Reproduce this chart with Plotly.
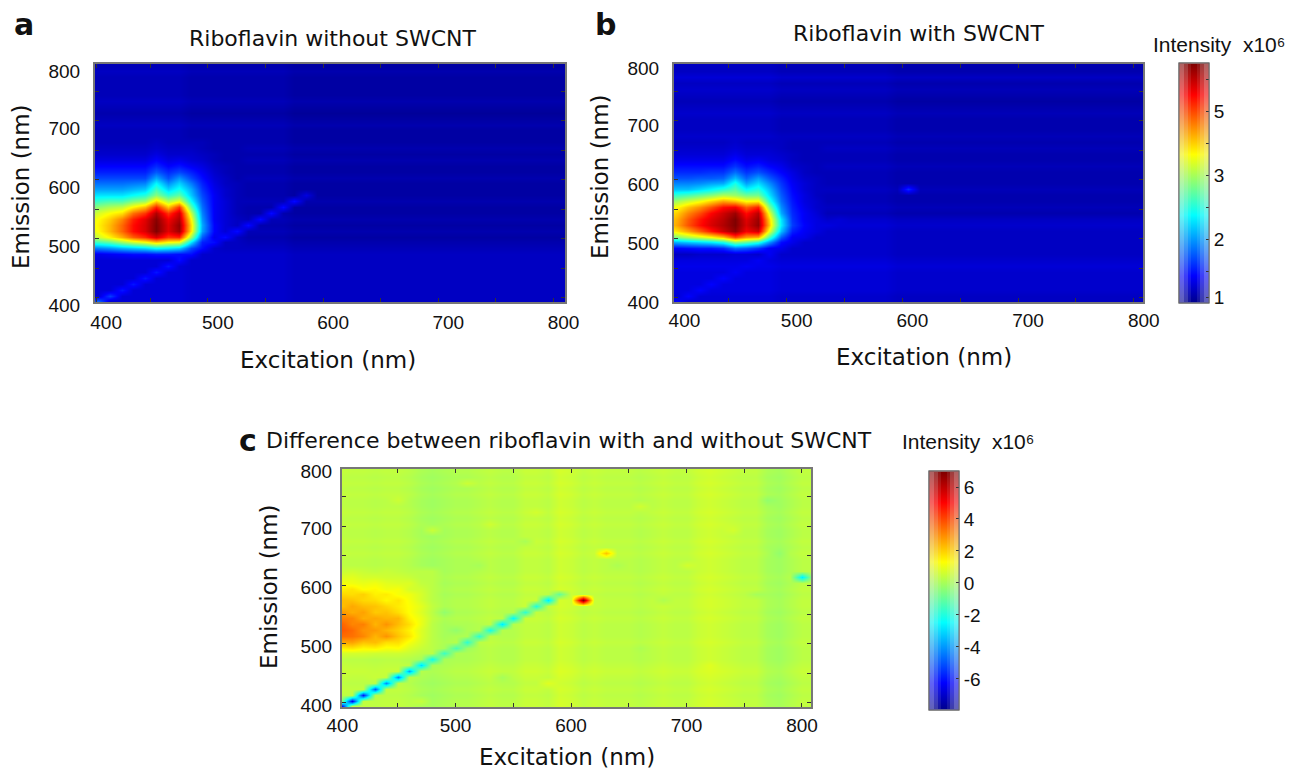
import plotly.graph_objects as go

W, H = 1289, 771
JET_STOPS = [(0, (0, 0, 143)), (0.11, (0, 0, 255)), (0.365, (0, 255, 255)),
             (0.62, (255, 255, 0)), (0.87, (255, 0, 0)), (1, (128, 0, 0))]


def jet(fade):
    out = []
    for p, c in JET_STOPS:
        r, g, b = [v + (235 - v) * fade for v in c]
        out.append([p, "rgb(%d,%d,%d)" % (r, g, b)])
    return out


JET = jet(0)

ab_excitation = list(range(395, 825, 10))
c_excitation = list(range(400, 820, 10))
emission = list(range(394, 814, 10))

# --- panel a, readings in percent of the colour range
a_row_bg = [5, 5, 5, 5, 5, 5, 5, 5, 5, 4, 3, 2, 3, 2, 3, 2, 2, 3, 2, 2, 2, 3, 2, 2, 3, 2, 3, 2, 2, 2, 3, 2, 1, 2, 3, 2, 2, 2, 2, 3, 2, 2]
a_col_bg = [2, 2, 2, 2, 2, 2, 2, 2, 2, 1, 1, 1, 1, 1, 1, 1, 1, 1, 0, 0, 0, 0, 0, 0, 0, 0, 0, 0, 0, 0, 0, 0, 0, 0, 0, 0, 0, 0, 0, 0, 0, 0, 0]
hot_ex = [395, 405, 415, 425, 435, 445, 455, 465, 475, 485, 495, 505, 515, 525]
hot_em = [664, 654, 644, 634, 624, 614, 604, 594, 584, 574, 564, 554, 544, 534, 524, 514, 504, 494, 484, 474]
a_hot = [
    [4, 4, 4, 4, 4, 4, 5, 4, 4, 4, 4, 3, 3, 3],
    [5, 5, 5, 5, 5, 5, 6, 5, 5, 5, 4, 3, 3, 3],
    [6, 6, 6, 6, 6, 6, 8, 6, 6, 6, 5, 4, 3, 3],
    [8, 8, 8, 8, 8, 8, 11, 8, 9, 7, 6, 4, 3, 3],
    [11, 11, 11, 11, 11, 11, 15, 11, 13, 10, 8, 5, 4, 3],
    [14, 14, 14, 14, 14, 14, 20, 15, 18, 14, 10, 6, 4, 3],
    [18, 18, 18, 18, 18, 18, 28, 19, 26, 18, 12, 7, 5, 3],
    [22, 22, 22, 22, 23, 24, 36, 25, 32, 23, 14, 8, 5, 4],
    [27, 27, 27, 27, 29, 31, 43, 32, 38, 28, 16, 9, 6, 4],
    [33, 34, 34, 34, 37, 40, 50, 41, 46, 31, 18, 10, 6, 4],
    [40, 42, 44, 44, 49, 52, 66, 54, 60, 37, 20, 10, 7, 4],
    [46, 51, 54, 56, 63, 69, 84, 68, 82, 46, 22, 10, 7, 4],
    [53, 58, 62, 65, 76, 82, 95, 82, 92, 56, 24, 10, 7, 4],
    [57, 62, 67, 74, 84, 90, 99, 88, 95, 62, 26, 10, 7, 5],
    [58, 63, 69, 77, 86, 91, 100, 90, 98, 65, 28, 11, 7, 5],
    [57, 62, 69, 77, 86, 91, 100, 90, 97, 64, 27, 11, 7, 5],
    [52, 57, 63, 70, 78, 83, 91, 82, 84, 52, 20, 9, 6, 5],
    [40, 43, 46, 52, 57, 61, 67, 62, 60, 34, 14, 7, 5, 5],
    [22, 24, 26, 29, 31, 33, 37, 35, 32, 18, 8, 6, 5, 5],
    [9, 9, 10, 11, 12, 12, 13, 13, 12, 8, 6, 6, 6, 6],
]
a_diag = [21, 17, 13, 13, 13, 13, 13, 12, 12, 12, 12, 12, 12, 12, 12, 12, 12, 12, 8]

# --- panel b
b_row_bg = [5, 5, 6, 6, 6, 6, 7, 6, 5, 5, 5, 5, 5, 6, 5, 3, 4, 3, 3, 4, 3, 3, 3, 4, 3, 3, 4, 3, 4, 3, 3, 3, 4, 3, 2, 3, 4, 3, 5, 3, 3, 3]
b_col_bg = [2, 2, 2, 2, 2, 2, 2, 2, 2, 2, 1, 1, 1, 1, 1, 1, 1, 1, 1, 1, 0, 0, 0, 0, 0, 0, 0, 0, 0, 0, 0, 0, 0, 0, 0, 0, 0, 0, 0, 0, 0, 0, 0]
b_hot = [
    [5, 5, 5, 5, 5, 5, 6, 5, 5, 5, 5, 4, 4, 4],
    [6, 6, 6, 6, 6, 6, 7, 6, 6, 6, 5, 4, 4, 4],
    [7, 7, 7, 7, 7, 7, 9, 7, 7, 7, 6, 5, 4, 4],
    [9, 9, 9, 9, 9, 9, 12, 9, 10, 8, 7, 5, 4, 4],
    [12, 12, 12, 12, 12, 12, 16, 12, 14, 11, 9, 6, 5, 4],
    [15, 15, 15, 15, 16, 16, 22, 16, 19, 15, 11, 8, 5, 4],
    [19, 19, 19, 20, 20, 21, 30, 21, 27, 20, 14, 9, 6, 5],
    [24, 24, 24, 25, 27, 28, 39, 27, 33, 25, 16, 10, 7, 5],
    [30, 30, 30, 33, 36, 40, 45, 36, 40, 30, 18, 11, 7, 5],
    [40, 42, 44, 47, 50, 54, 52, 48, 48, 34, 20, 12, 8, 5],
    [50, 53, 57, 61, 66, 71, 68, 62, 63, 40, 22, 13, 8, 6],
    [58, 62, 68, 73, 79, 86, 88, 78, 84, 50, 25, 14, 9, 6],
    [62, 67, 74, 80, 87, 92, 97, 86, 94, 60, 28, 15, 10, 7],
    [64, 70, 78, 85, 90, 94, 100, 90, 97, 66, 34, 16, 10, 8],
    [64, 71, 79, 86, 91, 95, 100, 91, 98, 68, 35, 17, 11, 8],
    [59, 65, 71, 78, 85, 92, 98, 88, 92, 60, 30, 14, 10, 7],
    [46, 50, 54, 58, 62, 68, 80, 72, 70, 44, 20, 10, 7, 6],
    [27, 29, 31, 33, 35, 39, 50, 46, 40, 26, 12, 7, 6, 6],
    [11, 11, 12, 13, 13, 15, 22, 20, 16, 10, 7, 6, 6, 6],
    [5, 5, 5, 6, 6, 6, 7, 7, 6, 6, 6, 6, 6, 6],
]
b_diag = [11, 11, 11, 11, 11, 10, 10, 10, 10, 9, 9, 9, 8, 8, 7]
b_spot = (605, 584, 15)

# --- panel c, readings in units of 1e6
c_row_bg = [0.1, 0.1, 0.0, 0.1, 0.0, 0.1, 0.2, 0.1, 0.0, 0.0, 0.0, 0.1, 0.0, 0.0, 0.0, 0.1, 0.0, 0.1, 0.1, 0.0, 0.1, 0.0, 0.1, 0.0, 0.0, 0.0, 0.1, 0.0, 0.1, 0.0, 0.0, 0.1, 0.0, 0.1, 0.0, 0.0, 0.1, 0.0, 0.1, 0.0, 0.1, 0.0]
c_col_bg = [0.35, 0.3, 0.3, 0.25, 0.3, 0.3, 0.2, 0.0, -0.1, 0.0, 0.1, 0.1, 0.2, 0.3, 0.2, 0.2, 0.4, 0.4, 0.3, 0.6, 0.5, 0.3, 0.4, 0.3, 0.3, 0.3, 0.2, 0.3, 0.4, 0.3, 0.3, 0.5, 0.6, 0.5, 0.4, 0.3, 0.3, 0.0, -0.1, 0.1, 0.3, 0.3]
c_hot_ex = [400, 410, 420, 430, 440, 450, 460, 470, 480]
c_hot_em = [624, 614, 604, 594, 584, 574, 564, 554, 544, 534, 524, 514, 504, 494, 484]
c_hot = [
    [0.5, 0.6, 0.5, 0.4, 0.5, 0.4, 0.3, 0.3, 0.3],
    [0.8, 0.9, 0.7, 0.7, 0.6, 0.6, 0.5, 0.3, 0.3],
    [1.2, 1.1, 1.0, 1.1, 0.9, 0.8, 0.8, 0.4, 0.3],
    [1.5, 1.7, 1.3, 1.4, 1.1, 1.2, 0.7, 0.6, 0.3],
    [1.9, 1.8, 2.0, 1.5, 1.6, 1.2, 1.1, 0.7, 0.3],
    [2.3, 2.2, 1.9, 1.8, 1.4, 1.7, 1.2, 0.7, 0.3],
    [2.2, 2.6, 2.3, 2.2, 1.9, 1.6, 1.3, 0.9, 0.4],
    [2.9, 2.5, 2.7, 2.1, 2.2, 1.8, 1.3, 0.8, 0.3],
    [3.2, 3.1, 2.5, 2.6, 2.4, 2.4, 1.5, 1.0, 0.4],
    [3.7, 3.1, 3.2, 2.4, 2.9, 2.3, 1.8, 1.0, 0.3],
    [3.8, 3.5, 2.9, 2.8, 2.4, 2.0, 1.5, 0.8, 0.3],
    [3.5, 3.4, 3.1, 2.4, 2.9, 2.2, 1.7, 0.8, 0.3],
    [2.6, 2.7, 2.2, 2.3, 1.8, 1.8, 1.2, 0.7, 0.3],
    [1.5, 1.7, 1.4, 1.5, 1.2, 1.3, 0.8, 0.5, 0.3],
    [0.7, 0.7, 0.7, 0.6, 0.6, 0.6, 0.5, 0.3, 0.3],
]
c_diag = [-7.5, -6.5, -6.0, -5.0, -4.2, -4.3, -3.8, -3.0, -2.3, -1.6, -1.4, -1.8, -1.8, -2.2, -2.8, -2.5, -1.8, -2.0, -2.8, -1.0]
c_spots = [(610, 574, 7.0), (630, 654, 2.2), (800, 614, -2.7),
           (450, 744, 0.55), (510, 774, 0.55), (530, 704, 0.6), (560, 674, 0.05), (480, 694, 0.5),
           (520, 634, 0.0), (500, 524, -0.3), (490, 554, -0.3), (510, 494, -0.15), (540, 444, 0.0),
           (570, 724, 0.65), (660, 734, 0.6), (640, 634, 0.1), (680, 574, 0.15), (720, 464, 0.85),
           (770, 744, -0.3), (780, 654, -0.3), (760, 584, 0.0), (590, 454, 0.8), (580, 434, 0.85),
           (430, 444, 0.5), (470, 404, 0.45), (660, 494, 0.1), (700, 634, 0.65), (740, 694, 0.65)]

AB_LOW, AB_HIGH = 1.0, 4.75   # position of the colour bar's ends
C_LOW, C_HIGH = -7.94, 7.0


def percent(v):
    return AB_LOW + v * (AB_HIGH - AB_LOW) / 100


def panel(xs, row_bg, col_bg, hot, hx, hy, diag, diag_col, spots, conv):
    z = [[conv(r + c) for c in col_bg] for r in row_bg]
    for j, em in enumerate(hy):
        for i, ex in enumerate(hx):
            z[emission.index(em)][xs.index(ex)] = conv(hot[j][i])
    for k, v in enumerate(diag):
        z[k][k + diag_col] = conv(v)
    for ex, em, v in spots:
        z[emission.index(em)][xs.index(ex)] = conv(v)
    return z


z_a = panel(ab_excitation, a_row_bg, a_col_bg, a_hot, hot_ex, hot_em, a_diag, 1, [], percent)
z_b = panel(ab_excitation, b_row_bg, b_col_bg, b_hot, hot_ex, hot_em, b_diag, 1, [b_spot], percent)
z_c = panel(c_excitation, c_row_bg, c_col_bg, c_hot, c_hot_ex, c_hot_em, c_diag, 0, c_spots, lambda v: v)

TICK = dict(family="Liberation Sans", size=19, color="#111")
TXT = dict(family="DejaVu Sans", size=22, color="#111")
AX = dict(family="DejaVu Sans", size=23, color="#111")

ab_tickvals = [1.1, 2, 3, 4]
ab_ticktext = ["1", "2", "3", "5"]
ab_all_ticks = [1.1, 1.5, 2, 2.5, 3, 3.5, 4, 4.5]
c_tickvals = [-6, -4, -2, 0, 2, 4, 6]
c_ticktext = ["-6", "-4", "-2", "0", "2", "4", "6"]


def cbar(x0, width, top, bottom, vals=None, text=None, labels=False, outline=0):
    d = dict(x=x0 / W, xanchor="left", xpad=0, y=1 - bottom / H, yanchor="bottom", ypad=0,
             thickness=width, thicknessmode="pixels", len=(bottom - top) / H, lenmode="fraction",
             outlinecolor="#666", outlinewidth=outline, showticklabels=labels, tickfont=TICK)
    if vals:
        d.update(tickmode="array", tickvals=vals, ticktext=text or [str(v) for v in vals],
                 ticks="inside", ticklen=3, tickcolor="#333")
    else:
        d.update(ticks="")
    return d


def fade_layers(x0, top, bottom, low, high, labelled, labels, all_ticks):
    """Nested colour bars reproduce the reference bar's pale edges."""
    fig.add_trace(go.Heatmap(z=[[low, high]], opacity=0, hoverinfo="skip", colorscale=jet(0.42), zmin=low, zmax=high,
                             colorbar=cbar(x0, 30, top, bottom, labelled, labels, True, 1)))
    fig.add_trace(go.Heatmap(z=[[low, high]], opacity=0, hoverinfo="skip", colorscale=jet(0.42), zmin=low, zmax=high,
                             colorbar=cbar(x0, 30, top, bottom, all_ticks, None, False, 1)))
    fig.add_trace(go.Heatmap(z=[[low, high]], opacity=0, hoverinfo="skip", colorscale=jet(0.26), zmin=low, zmax=high,
                             colorbar=cbar(x0 + 5, 20, top + 1, bottom - 1)))
    fig.add_trace(go.Heatmap(z=[[low, high]], opacity=0, hoverinfo="skip", colorscale=jet(0.1), zmin=low, zmax=high,
                             colorbar=cbar(x0 + 9, 12, top + 1, bottom - 1)))


fig = go.Figure()
fade_layers(1178.5, 64, 303.5, AB_LOW, AB_HIGH, ab_tickvals, ab_ticktext, ab_all_ticks)
fade_layers(929, 471, 710, C_LOW, C_HIGH, c_tickvals, c_ticktext, c_tickvals)
fig.add_trace(go.Heatmap(x=ab_excitation, y=emission, z=z_a, zsmooth="best", colorscale=JET,
                         zmin=AB_LOW, zmax=AB_HIGH, xaxis="x", yaxis="y", showscale=False))
fig.add_trace(go.Heatmap(x=ab_excitation, y=emission, z=z_b, zsmooth="best", colorscale=JET,
                         zmin=AB_LOW, zmax=AB_HIGH, xaxis="x2", yaxis="y2",
                         colorbar=cbar(1178.5 + 12, 6, 65, 302.5)))
fig.add_trace(go.Heatmap(x=c_excitation, y=emission, z=z_c, zsmooth="best", colorscale=JET,
                         zmin=C_LOW, zmax=C_HIGH, xaxis="x3", yaxis="y3",
                         colorbar=cbar(929 + 12, 6, 472, 709)))


def axis(d0, d1, rng, tickvals, ticktext, minor_vals, anchor, shift, standoff):
    return dict(domain=[d0, d1], range=rng, tickmode="array", tickvals=tickvals, ticktext=ticktext,
                ticks="inside", ticklen=4, tickcolor="#333", tickfont=TICK, showline=True, linecolor="#777",
                linewidth=2, mirror="ticks", showgrid=False, zeroline=False, anchor=anchor,
                minor=dict(ticks="inside", tickvals=minor_vals, ticklen=4, tickcolor="#333", showgrid=False),
                ticklabelshift=shift, ticklabelstandoff=standoff)


LABELS = ["400", "500", "600", "700", "800"]
MINOR = [450, 550, 650, 750]
X_MAJOR = [403, 500, 600, 700, 800]
Y_MAJOR = [400, 500, 600, 700, 796]
fig.update_layout(
    width=W, height=H, margin=dict(l=0, r=0, t=0, b=0, autoexpand=False), paper_bgcolor="white", plot_bgcolor="white",
    xaxis=axis(95 / W, 565 / W, [402, 810], X_MAJOR, LABELS, MINOR, "y", 10, 2),
    yaxis=axis(1 - 302 / H, 1 - 64 / H, [393, 796.6], Y_MAJOR, LABELS, MINOR, "x", 7, 9),
    xaxis2=axis(674 / W, 1143 / W, [402.6, 808], X_MAJOR, LABELS, MINOR, "y2", 10, 0),
    yaxis2=axis(1 - 302 / H, 1 - 64 / H, [393, 796.6], Y_MAJOR, LABELS, MINOR, "x2", 4, 9),
    xaxis3=axis(342 / W, 811 / W, [401.7, 807.8], [402, 500, 600, 700, 800], LABELS, MINOR, "y3", 0, 0),
    yaxis3=axis(1 - 707 / H, 1 - 469 / H, [393, 797], Y_MAJOR, LABELS, MINOR, "x3", 2, 4),
    font=dict(family="DejaVu Sans", color="#111"),
)


def note(text, x, y, font, anchor="center", angle=0):
    fig.add_annotation(text=text, x=x / W, y=1 - y / H, xref="paper", yref="paper", showarrow=False,
                       xanchor=anchor, yanchor="middle", font=font, borderpad=0, textangle=angle)


BOLD = dict(family="DejaVu Sans", size=30, color="#111", weight="bold")
note("a", 13, 24, BOLD, "left")
note("b", 594, 24, BOLD, "left")
note("c", 238, 440, BOLD, "left")
note("Riboflavin without SWCNT", 332.5, 38, TXT)
note("Riboflavin with SWCNT", 918, 34, TXT)
note("Difference between riboflavin with and without SWCNT", 568.5, 440, TXT)
note("Excitation (nm)", 328, 360, AX)
note("Excitation (nm)", 924, 357, AX)
note("Excitation (nm)", 567, 757, AX)
note("Emission (nm)", 21, 187, AX, angle=-90)
note("Emission (nm)", 600, 177, AX, angle=-90)
note("Emission (nm)", 269, 587, AX, angle=-90)
LEG = dict(family="Liberation Sans", size=21, color="#111")
note("Intensity  x10⁶", 1219, 44, LEG)
note("Intensity  x10⁶", 968, 442, LEG)

fig.write_html("out.html", config=dict(displayModeBar=False),
               post_script="document.body.style.margin='0';document.documentElement.style.overflow='hidden';")
